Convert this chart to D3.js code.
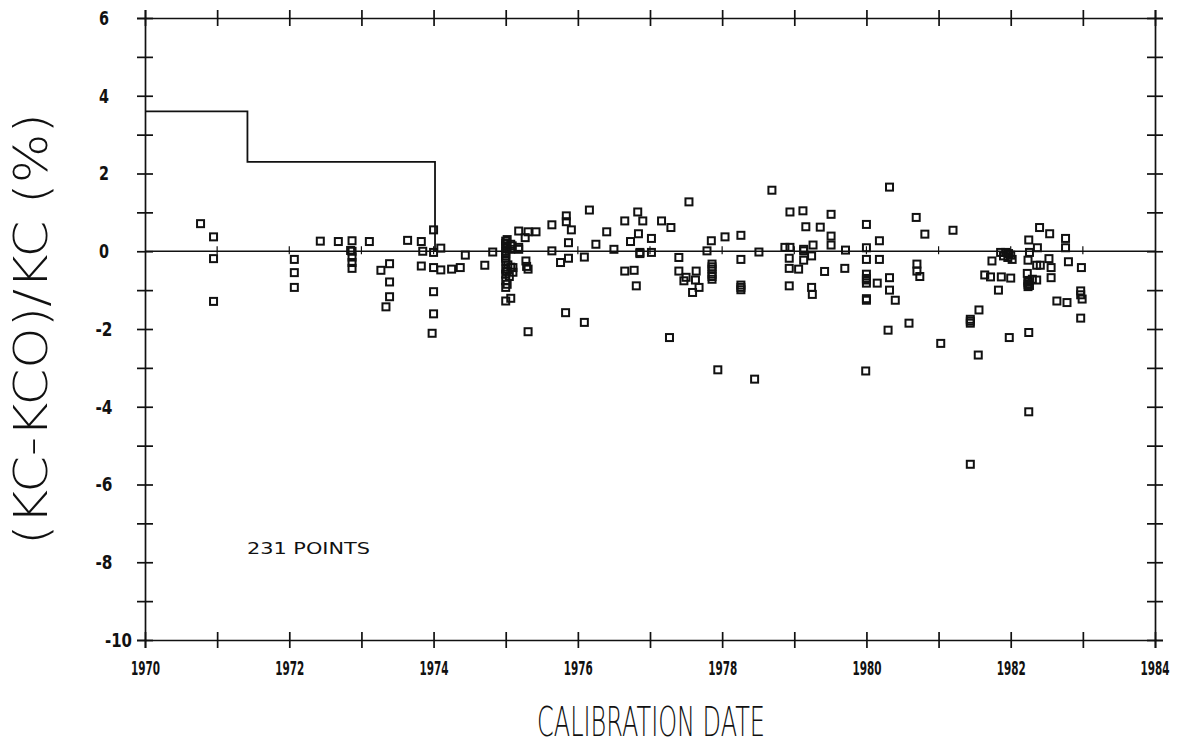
<!DOCTYPE html>
<html>
<head>
<meta charset="utf-8">
<script src="https://cdnjs.cloudflare.com/ajax/libs/d3/7.8.5/d3.min.js"></script>
<style>
  html, body { margin: 0; padding: 0; background: #fff; }
  svg { display: block; }
  .tick text { font-family: "DejaVu Sans", sans-serif; font-stretch: condensed; font-weight: bold; fill: #111; }
  .title { font-family: "DejaVu Sans", sans-serif; font-weight: 200; fill: #111; }
</style>
</head>
<body>
<svg id="chart" width="1181" height="745"></svg>
<script>
// Calibration dates (decimal years) of each measurement
const calYears = [
  1970.77, 1970.95, 1970.95, 1970.95,
  1972.07, 1972.07, 1972.07, 1972.43, 1972.68, 1972.87, 1972.87, 1972.87, 1972.87, 1972.87, 1972.85,
  1973.11, 1973.27, 1973.39, 1973.39, 1973.39, 1973.34, 1973.64, 1973.83, 1973.85, 1973.83,
  1974.00, 1974.00, 1974.10, 1974.00, 1974.10, 1974.25, 1974.37, 1974.44, 1974.71, 1974.82,
  1974.00, 1974.00, 1973.98,
  1975.00, 1975.00, 1975.00, 1975.00, 1975.00, 1975.00, 1975.00, 1975.00, 1975.00, 1975.00,
  1975.07, 1975.07, 1975.07, 1975.10, 1975.07, 1975.10, 1975.09, 1975.18,
  1975.18, 1975.31, 1975.42, 1975.27, 1975.18, 1975.28, 1975.29, 1975.31, 1975.31,
  1975.02, 1975.03, 1975.05, 1975.02, 1975.00, 1975.00, 1975.00, 1975.02, 1975.02,
  1975.64, 1975.84, 1975.84, 1975.91, 1976.16, 1975.87, 1975.64, 1975.87, 1975.76, 1976.09,
  1976.25, 1976.40, 1976.50, 1976.65, 1976.83, 1976.90, 1977.16, 1977.29, 1976.84, 1976.73,
  1977.02, 1976.86, 1977.02, 1976.65, 1976.78, 1976.81, 1976.86,
  1977.40, 1977.40, 1977.47, 1977.54, 1975.83, 1976.09, 1977.27,
  1977.50, 1977.64, 1977.63, 1977.59, 1977.68, 1977.79, 1977.85,
  1977.86, 1977.86, 1977.86, 1977.86, 1977.86, 1977.86,
  1978.04, 1978.26, 1978.26, 1978.26, 1978.26, 1978.26, 1978.51, 1978.69,
  1978.87, 1978.94, 1978.94, 1979.12, 1978.93, 1978.93, 1979.06, 1979.13, 1979.13, 1979.13,
  1979.24, 1979.26, 1979.16, 1979.36, 1979.51, 1979.51, 1979.51, 1979.42, 1979.71, 1979.70,
  1978.93, 1979.24, 1979.25, 1977.94, 1978.45,
  1980.32, 1980.00, 1980.18, 1980.00, 1980.00, 1980.18, 1980.00, 1980.00, 1980.00, 1980.15,
  1980.32, 1980.32, 1980.40, 1980.00, 1980.00, 1980.00,
  1980.69, 1980.81, 1980.70, 1980.70, 1980.74, 1980.59, 1980.30, 1981.20, 1981.03, 1979.99,
  1981.74, 1981.64, 1981.72, 1981.83, 1981.87, 1982.00, 1981.86, 1981.93, 1981.96, 1982.02,
  1981.90, 1981.97, 1982.00,
  1981.56, 1981.44, 1981.44, 1981.44, 1981.98, 1981.55,
  1982.40, 1982.54, 1982.25, 1982.37, 1982.26, 1982.24, 1982.53, 1982.36, 1982.41, 1982.56,
  1982.76, 1982.76, 1982.80, 1982.98, 1982.23, 1982.24, 1982.24, 1982.24, 1982.24, 1982.26,
  1982.30, 1982.36, 1982.56, 1982.64, 1982.78, 1982.97, 1982.97, 1982.99, 1982.97,
  1982.25, 1982.25, 1981.44
];

// Relative deviation (KC-KCO)/KC in percent for each measurement
const deviationPct = [
  0.71, 0.37, -0.19, -1.29,
  -0.21, -0.55, -0.93, 0.26, 0.25, 0.27, 0.00, -0.15, -0.29, -0.44, 0.02,
  0.25, -0.49, -0.32, -0.79, -1.17, -1.43, 0.28, 0.25, 0.00, -0.38,
  0.55, -0.03, 0.08, -0.42, -0.48, -0.46, -0.42, -0.10, -0.36, -0.02,
  -1.04, -1.61, -2.11,
  0.26, 0.14, 0.00, -0.12, -0.25, -0.46, -0.59, -0.76, -0.93, -1.28,
  0.18, 0.05, -0.41, -0.54, -1.21, -0.42, 0.14, 0.05,
  0.52, 0.50, 0.50, 0.35, 0.10, -0.25, -0.39, -0.46, -2.07,
  0.08, -0.35, -0.65, 0.30, 0.20, -0.05, -0.18, -0.52, -0.85,
  0.68, 0.91, 0.76, 0.55, 1.06, 0.22, 0.01, -0.18, -0.29, -0.15,
  0.18, 0.50, 0.05, 0.78, 1.01, 0.78, 0.78, 0.61, 0.45, 0.25,
  0.33, -0.03, -0.03, -0.51, -0.49, -0.89, -0.06,
  -0.16, -0.51, -0.76, 1.27, -1.58, -1.83, -2.22,
  -0.67, -0.51, -0.74, -1.06, -0.93, 0.01, 0.27,
  -0.33, -0.46, -0.59, -0.72, -0.40, -0.65,
  0.37, 0.41, -0.21, -0.87, -0.99, -0.93, -0.02, 1.57,
  0.10, 0.10, 1.01, 1.04, -0.18, -0.44, -0.46, 0.01, -0.23, 0.05,
  -0.12, 0.16, 0.63, 0.62, 0.95, 0.39, 0.16, -0.52, 0.03, -0.44,
  -0.89, -0.93, -1.11, -3.05, -3.29,
  1.65, 0.69, 0.27, 0.09, -0.21, -0.21, -0.59, -0.70, -0.82, -0.82,
  -0.68, -1.00, -1.26, -1.26, -0.74, -1.22,
  0.87, 0.44, -0.33, -0.51, -0.65, -1.85, -2.03, 0.54, -2.37, -3.08,
  -0.25, -0.61, -0.66, -1.00, -0.66, -0.69, -0.03, -0.03, -0.16, -0.21,
  -0.12, -0.06, -0.10,
  -1.51, -1.75, -1.85, -1.80, -2.22, -2.67,
  0.61, 0.45, 0.29, 0.09, -0.03, -0.23, -0.19, -0.36, -0.36, -0.42,
  0.33, 0.09, -0.27, -0.42, -0.57, -0.76, -0.85, -0.91, -0.80, -0.88,
  -0.72, -0.74, -0.68, -1.28, -1.32, -1.02, -1.12, -1.23, -1.72,
  -2.09, -4.13, -5.48
];

// Stepped tolerance limit in percent, changing at the given dates
const limitYears = [1970, 1971.42, 1974.02];
const limitValues = [3.6, 2.3, 0];

// Axis ticks and labels
const yearTicks = d3.range(1970, 1985, 1);
const yearLabels = [1970, 1972, 1974, 1976, 1978, 1980, 1982, 1984];
const pctTicks = d3.range(-10, 7, 1);
const pctLabels = [-10, -8, -6, -4, -2, 0, 2, 4, 6];

const pointCountLabel = "231 POINTS";
const xTitle = "CALIBRATION DATE";
const yTitle = "(KC-KCO)/KC (%)";

const svg = d3.select("#chart");
const plotL = 145, plotR = 1155, plotT = 18, plotB = 640;

const x = d3.scaleLinear().domain([1970, 1984]).range([plotL, plotR]);
const y = d3.scaleLinear().domain([-10, 6]).range([plotB, plotT]);

const ink = "#111";
const tickLen = 8;

// Frame axis whose ticks straddle the line on both sides
function frameAxis(axis, translate, a1, a2) {
  const g = svg.append("g").attr("transform", translate).call(axis);
  g.select(".domain").attr("stroke", ink).attr("stroke-width", 1.7).attr("fill", "none");
  g.selectAll(".tick line").attr("stroke", ink).attr("stroke-width", 1.7)
    .attr(a1, -tickLen).attr(a2, tickLen);
  return g;
}

const fmtPct = d => pctLabels.includes(d) ? String(d) : "";
const fmtYear = d => yearLabels.includes(d) ? String(d) : "";

// Condensed plotter-style label width: narrow digits, shorter minus sign
const labelWidth = s => s.replace("-", "").length * 10 + (s.startsWith("-") ? 7 : 0);

// Left axis with labels
const gl = frameAxis(d3.axisLeft(y).tickValues(pctTicks).tickSize(tickLen).tickFormat(fmtPct).tickPadding(34),
  `translate(${plotL},0)`, "x1", "x2");
gl.selectAll(".tick text")
  .attr("font-size", 20)
  .attr("text-anchor", d => d === -10 ? "end" : "middle")
  .attr("x", d => d === -10 ? -13 : -41)
  .attr("textLength", d => labelWidth(fmtPct(d)) || null)
  .attr("lengthAdjust", "spacingAndGlyphs");

// Right axis
frameAxis(d3.axisRight(y).tickValues(pctTicks).tickSize(tickLen).tickFormat(""),
  `translate(${plotR},0)`, "x1", "x2");

// Bottom axis with labels
const gb = frameAxis(d3.axisBottom(x).tickValues(yearTicks).tickSize(tickLen).tickFormat(fmtYear).tickPadding(13),
  `translate(0,${plotB})`, "y1", "y2");
gb.selectAll(".tick text")
  .attr("font-size", 20)
  .attr("text-anchor", d => d === 1984 ? "end" : "middle")
  .attr("x", d => d === 1984 ? 14 : 0)
  .attr("textLength", d => fmtYear(d) ? 29 : null)
  .attr("lengthAdjust", "spacingAndGlyphs");

// Top axis
frameAxis(d3.axisTop(x).tickValues(yearTicks).tickSize(tickLen).tickFormat(""),
  `translate(0,${plotT})`, "y1", "y2");

// Zero reference line with small year marks
svg.append("line")
  .attr("x1", x(1970)).attr("x2", x(1984)).attr("y1", y(0)).attr("y2", y(0))
  .attr("stroke", ink).attr("stroke-width", 1.7);
svg.append("g").selectAll("line").data(yearTicks.slice(1, -1)).join("line")
  .attr("x1", d => x(d)).attr("x2", d => x(d))
  .attr("y1", y(0) - 5).attr("y2", y(0) + 3)
  .attr("stroke", ink).attr("stroke-width", 1.2);

// Stepped limit line
const limitPts = limitYears.map((yr, i) => [yr, limitValues[i]]);
svg.append("path")
  .datum(limitPts)
  .attr("fill", "none").attr("stroke", ink).attr("stroke-width", 1.8)
  .attr("d", d3.line().x(d => x(d[0])).y(d => y(d[1])).curve(d3.curveStepAfter));

// Measurement markers
const pts = calYears.map((yr, i) => ({ yr, v: deviationPct[i] }));
const sq = 7;
svg.append("g").selectAll("rect").data(pts).join("rect")
  .attr("x", d => x(d.yr) - sq / 2)
  .attr("y", d => y(d.v) - sq / 2)
  .attr("width", sq).attr("height", sq)
  .attr("fill", "none").attr("stroke", ink).attr("stroke-width", 2);

// Point count annotation
svg.append("text")
  .attr("x", 247).attr("y", 554)
  .attr("font-family", "DejaVu Sans, sans-serif").attr("font-stretch", "condensed")
  .attr("font-size", 16).attr("fill", ink)
  .attr("textLength", 123).attr("lengthAdjust", "spacingAndGlyphs")
  .text(pointCountLabel);

// Axis titles
svg.append("text").attr("class", "title")
  .attr("x", 651).attr("y", 736)
  .attr("text-anchor", "middle").attr("font-size", 40)
  .attr("textLength", 228).attr("lengthAdjust", "spacingAndGlyphs")
  .text(xTitle);

svg.append("text").attr("class", "title")
  .attr("transform", `translate(47,${329}) rotate(-90)`)
  .attr("text-anchor", "middle").attr("font-size", 46)
  .attr("textLength", 432).attr("lengthAdjust", "spacingAndGlyphs")
  .text(yTitle);
</script>
</body>
</html>
